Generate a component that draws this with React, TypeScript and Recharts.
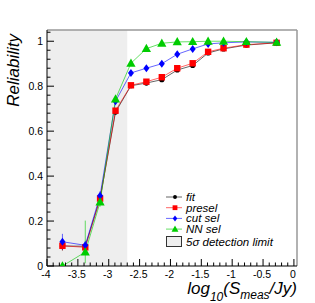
import React from 'react'
import {
  ComposedChart,
  Line,
  XAxis,
  YAxis,
  ErrorBar,
  ReferenceArea,
  ReferenceLine,
} from 'recharts'

// log10 flux bin centres
const xBins = [-3.75, -3.38, -3.14, -2.89, -2.64, -2.39, -2.14, -1.89, -1.64, -1.39, -1.14, -0.77, -0.28]

const fitVals = [0.089, 0.088, 0.3, 0.685, 0.802, 0.814, 0.829, 0.872, 0.892, 0.948, 0.966, 0.983, 0.993]
const preselVals = [0.09, 0.083, 0.3, 0.691, 0.804, 0.82, 0.84, 0.88, 0.902, 0.953, 0.969, 0.985, 0.993]
const cutVals = [0.108, 0.092, 0.313, 0.733, 0.859, 0.88, 0.9, 0.942, 0.966, 0.988, 0.993, 0.997, 0.995]
const nnVals = [0.0, 0.062, 0.284, 0.743, 0.902, 0.967, 0.991, 0.997, 0.998, 1.0, 1.0, 0.998, 0.995]

const fitErr = [0.02, 0.015, 0.02, 0.01, 0.005, 0.005, 0.005, 0.005, 0.005, 0.003, 0.003, 0.002, 0.002]
const preselErr = [0.02, 0.015, 0.02, 0.01, 0.005, 0.005, 0.005, 0.005, 0.005, 0.003, 0.003, 0.002, 0.002]
const cutErr = [0.035, 0.02, 0.02, 0.01, 0.005, 0.005, 0.005, 0.005, 0.005, 0.003, 0.003, 0.002, 0.002]
const nnErr: (number | number[])[] = [0, [0.05, 0.14], 0.02, 0.01, 0.005, 0.005, 0.005, 0.003, 0.003, 0.002, 0.002, 0.002, 0.002]

const detectionLimit = -2.7

const xMajor = [-4, -3.5, -3, -2.5, -2, -1.5, -1, -0.5, 0]
const xMajorLabels = ['-4', '-3.5', '-3', '-2.5', '-2', '-1.5', '-1', '-0.5', '0']
const yMajor = [0, 0.2, 0.4, 0.6, 0.8, 1]
const yMajorLabels = ['0', '0.2', '0.4', '0.6', '0.8', '1']

const xTicks: number[] = []
for (let i = 0; i <= 40; i++) xTicks.push(-4 + i * 0.1)
const yTicks: number[] = []
for (let i = 0; i <= 26; i++) yTicks.push(i * 0.04)

const rows = xBins.map((x, i) => ({
  x,
  fit: fitVals[i],
  presel: preselVals[i],
  cut: cutVals[i],
  nn: nnVals[i],
  fitErr: fitErr[i],
  preselErr: preselErr[i],
  cutErr: cutErr[i],
  nnErr: nnErr[i],
}))

const FONT = '"Liberation Sans", Arial, sans-serif'
const GREEN = '#00cc00'

type Shape = 'circle' | 'square' | 'diamond' | 'triangle'

const series: { key: string; name: string; color: string; shape: Shape }[] = [
  { key: 'fit', name: 'fit', color: '#000000', shape: 'circle' },
  { key: 'presel', name: 'presel', color: '#ff0000', shape: 'square' },
  { key: 'cut', name: 'cut sel', color: '#0000ff', shape: 'diamond' },
  { key: 'nn', name: 'NN sel', color: GREEN, shape: 'triangle' },
]

function marker(shape: Shape, cx: number, cy: number, color: string, key?: React.Key, k = 1) {
  if (shape === 'circle') return <circle key={key} cx={cx} cy={cy} r={2.6 * k} fill={color} />
  if (shape === 'square')
    return <rect key={key} x={cx - 3.2 * k} y={cy - 3.2 * k} width={6.4 * k} height={6.4 * k} fill={color} />
  if (shape === 'diamond')
    return (
      <polygon
        key={key}
        points={`${cx},${cy - 4 * k} ${cx + 3 * k},${cy} ${cx},${cy + 4 * k} ${cx - 3 * k},${cy}`}
        fill={color}
      />
    )
  return (
    <polygon
      key={key}
      points={`${cx},${cy - 4.8 * k} ${cx + 4.6 * k},${cy + 3.4 * k} ${cx - 4.6 * k},${cy + 3.4 * k}`}
      fill={color}
    />
  )
}

const fmtMajor = (v: number, majors: number[], labels: string[]) => {
  const i = majors.findIndex((m) => Math.abs(m - v) < 1e-6)
  return i >= 0 ? labels[i] : null
}

const XTick = (p: any) => {
  const v = p.payload.value
  const lab = fmtMajor(v, xMajor, xMajorLabels)
  return (
    <g>
      <line x1={p.x} x2={p.x} y1={p.y} y2={p.y - (lab !== null ? 7 : 3.5)} stroke="#000" strokeWidth={1} />
      {lab !== null && (
        <text x={p.x - 1} y={p.y + 12} textAnchor="middle" fontSize={10.5} fontFamily={FONT} fill="#000">
          {lab}
        </text>
      )}
    </g>
  )
}

const YTick = (p: any) => {
  const v = p.payload.value
  const lab = fmtMajor(v, yMajor, yMajorLabels)
  return (
    <g>
      <line x1={p.x} x2={p.x + (lab !== null ? 7 : 3.5)} y1={p.y} y2={p.y} stroke="#000" strokeWidth={1} />
      {lab !== null && (
        <text x={p.x - 4} y={p.y + 4} textAnchor="end" fontSize={10.5} fontFamily={FONT} fill="#000">
          {lab}
        </text>
      )}
    </g>
  )
}

export default function App() {
  return (
    <div style={{ position: 'absolute', left: 0, top: 0, width: 315, height: 303, background: '#fff' }}>
      <ComposedChart width={315} height={303} data={rows} margin={{ top: 30, right: 18, bottom: 0, left: 0 }}>
        <XAxis
          type="number"
          dataKey="x"
          domain={[-4, 0.05]}
          ticks={xTicks}
          interval={0}
          height={37}
          tickSize={0}
          tickMargin={0}
          tickLine={false}
          tick={XTick}
          axisLine={{ stroke: '#000' }}
          allowDataOverflow
        />
        <YAxis
          type="number"
          domain={[0, 1.05]}
          ticks={yTicks}
          interval={0}
          width={47}
          tickSize={0}
          tickMargin={0}
          tickLine={false}
          tick={YTick}
          axisLine={{ stroke: '#000' }}
          allowDataOverflow
        />
        <ReferenceArea x1={-4} x2={detectionLimit} y1={0} y2={1.05} fill="#eeeeee" fillOpacity={1} stroke="none" />
        <ReferenceLine y={1.05} stroke="#999" strokeWidth={1.5} />
        <ReferenceLine x={0.05} stroke="#999" strokeWidth={1.5} />
        {series.map((s) => (
          <Line
            key={s.key}
            dataKey={s.key}
            name={s.name}
            type="linear"
            stroke={s.color}
            strokeOpacity={0.6}
            strokeWidth={1}
            isAnimationActive={false}
            dot={(d: any) => marker(s.shape, d.cx, d.cy, s.color, `${s.key}-${d.index}`)}
            activeDot={false}
          >
            <ErrorBar dataKey={`${s.key}Err`} width={0} stroke={s.color} strokeOpacity={0.6} strokeWidth={1} direction="y" />
          </Line>
        ))}
      </ComposedChart>
      <svg
        width={315}
        height={303}
        style={{ position: 'absolute', left: 0, top: 0, pointerEvents: 'none' }}
        fontFamily={FONT}
      >
        <text transform="translate(19,34) rotate(-90)" textAnchor="end" fontSize={17} fontStyle="italic" fill="#000">
          Reliability
        </text>
        <text x={297} y={294} textAnchor="end" fontSize={17} fontStyle="italic" fill="#000">
          log
          <tspan fontSize={12} dy={7}>10</tspan>
          <tspan dy={-7}>(S</tspan>
          <tspan fontSize={12} dy={5}>meas</tspan>
          <tspan dy={-5}>/Jy)</tspan>
        </text>
        {series.map((s, i) => {
          const y = 197 + i * 10.7
          return (
            <g key={s.key}>
              <line x1={166} x2={182} y1={y} y2={y} stroke={s.color} strokeOpacity={0.6} />
              {marker(s.shape, 175, y, s.color, undefined, 0.75)}
              <text x={186} y={y + 4} fontSize={11.5} fontStyle="italic" fill="#000">
                {s.name}
              </text>
            </g>
          )
        })}
        <rect x={166.5} y={236.5} width={15} height={10} fill="#eeeeee" stroke="#333" strokeWidth={1} />
        <text x={186} y={245.5} fontSize={11.5} fontStyle="italic" fill="#000">
          5σ detection limit
        </text>
      </svg>
    </div>
  )
}
